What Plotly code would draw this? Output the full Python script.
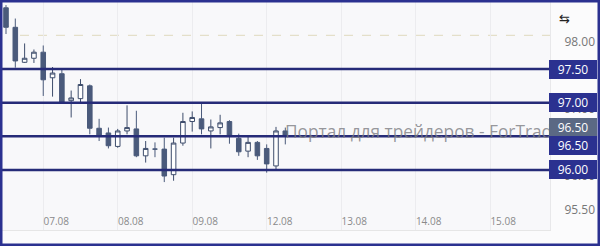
import plotly.graph_objects as go

# ---- data (3-hour candles, index based) ----
candle_idx = list(range(31))
opens  = [98.41, 98.12, 97.60, 97.66, 97.75, 97.37, 97.43, 97.03, 97.06, 97.25,
          96.62, 96.55, 96.35, 96.58, 96.61, 96.21, 96.31, 96.31, 95.93, 96.40,
          96.72, 96.76, 96.58, 96.63, 96.72, 96.47, 96.28, 96.41, 96.32, 96.06, 96.58]
highs  = [98.45, 98.25, 97.88, 97.79, 97.85, 97.53, 97.50, 97.18, 97.35, 97.27,
          96.76, 96.63, 96.61, 96.96, 96.88, 96.43, 96.41, 96.48, 96.48, 96.85,
          96.87, 96.99, 96.75, 96.82, 96.74, 96.54, 96.50, 96.43, 96.38, 96.64, 96.63]
lows   = [98.02, 97.52, 97.59, 97.59, 97.10, 97.09, 96.99, 96.78, 96.99, 96.53,
          96.43, 96.32, 96.33, 96.53, 96.19, 96.11, 96.19, 95.82, 95.84, 96.36,
          96.57, 96.53, 96.32, 96.53, 96.39, 96.21, 96.19, 96.15, 95.96, 96.01, 96.38]
closes = [98.12, 97.62, 97.66, 97.75, 97.34, 97.44, 96.99, 97.07, 97.27, 96.62,
          96.52, 96.36, 96.58, 96.63, 96.21, 96.32, 96.31, 95.91, 96.40, 96.72,
          96.78, 96.61, 96.64, 96.70, 96.50, 96.27, 96.41, 96.21, 96.09, 96.58, 96.50]

day_tick_idx = [4, 12, 20, 28, 36, 44, 52]
day_labels = ["07.08", "08.08", "09.08", "12.08", "13.08", "14.08", "15.08"]

price_ticks = [95.5, 96.0, 96.5, 97.0, 97.5, 98.0]
levels = [97.50, 97.00, 96.50, 96.00]
prev_level = 98.00
prev_level_start = 1.5
last_price = closes[-1]

watermark = "Портал для трейдеров - ForTrader.ru"

# ---- layout geometry ----
W, H = 600, 246
ML, MR, MT, MB = 2, 50, 2, 16
PW, PH = W - ML - MR, H - MT - MB

def px_x(p):
    return (p - ML) / PW

def px_y(p):
    return (H - MB - p) / PH

NAVY = "#2b3190"
LINE = "#262b78"
DARK = "#4a5a7b"

fig = go.Figure()
fig.add_trace(go.Candlestick(
    x=candle_idx, open=opens, high=highs, low=lows, close=closes,
    increasing=dict(fillcolor="#ffffff", line=dict(color="#3e4d6c", width=1)),
    decreasing=dict(fillcolor=DARK, line=dict(color=DARK, width=1)),
    whiskerwidth=0, showlegend=False, hoverinfo="skip",
))

shapes = []
shapes.append(dict(type="line", xref="x", yref="y", x0=prev_level_start, x1=58.43,
                   y0=prev_level, y1=prev_level,
                   line=dict(color="#e4dfc9", width=1.3, dash="dash"), layer="below"))
for lv in levels:
    shapes.append(dict(type="line", xref="paper", yref="y", x0=0, x1=1, y0=lv, y1=lv,
                       line=dict(color=LINE, width=2.5), layer="above"))
shapes.append(dict(type="rect", xref="paper", yref="paper",
                   x0=px_x(1), x1=px_x(W - 1), y0=px_y(H - 1), y1=px_y(1),
                   line=dict(color=NAVY, width=3), fillcolor="rgba(0,0,0,0)", layer="above"))

annotations = []
annotations.append(dict(text=watermark, xref="paper", yref="paper",
                        x=px_x(283), y=px_y(131), xanchor="left", yanchor="middle",
                        showarrow=False,
                        font=dict(family="Open Sans, DejaVu Sans", size=17.3,
                                  color="rgba(125,125,130,0.8)")))
box = dict(xref="paper", yref="y", x=1, xanchor="left", yanchor="middle", xshift=-1,
           showarrow=False, borderwidth=1, borderpad=1, width=44, height=15,
           font=dict(family="Open Sans", size=12, color="white"))
for lv in levels:
    if lv == last_price:
        continue
    annotations.append(dict(box, text=f"{lv:.2f}", y=lv, bgcolor=NAVY, bordercolor=NAVY))
annotations.append(dict(box, text=f"{last_price:.2f}", y=last_price, yshift=9,
                        bgcolor="#5b6984", bordercolor="#5b6984"))
annotations.append(dict(box, text=f"{last_price:.2f}", y=last_price, yshift=-9,
                        bgcolor=NAVY, bordercolor=NAVY))
annotations.append(dict(text="⇆", xref="paper", yref="paper", x=px_x(572), y=px_y(9),
                        showarrow=False, font=dict(family="DejaVu Sans", size=13, color="#222")))

fig.update_layout(
    width=W, height=H,
    margin=dict(l=ML, r=MR, t=MT, b=MB, pad=0),
    paper_bgcolor="#fbfbfc", plot_bgcolor="#f8f8fa",
    shapes=shapes, annotations=annotations,
    xaxis=dict(range=[-0.43, 58.43], tickvals=day_tick_idx, ticktext=day_labels,
               rangeslider=dict(visible=False), showgrid=True, gridcolor="#ececef",
               gridwidth=1, zeroline=False, ticks="", ticklabelposition="inside",
               ticklabelshift=13, ticklabelstandoff=2,
               tickfont=dict(family="Open Sans", size=10, color="#8a8a8a"),
               showline=True, linecolor="#e6e6e6", linewidth=1, fixedrange=True),
    yaxis=dict(range=[95.108, 98.496], side="right", tickvals=price_ticks,
               tickformat=".2f", showgrid=False, zeroline=False, ticks="",
               ticklabelstandoff=11, ticklabelshift=6,
               tickfont=dict(family="Open Sans", size=12, color="#777"),
               showline=True, linecolor="#e8e8ea", linewidth=1),
    font=dict(family="Open Sans"),
)

fig.write_html("out.html")
